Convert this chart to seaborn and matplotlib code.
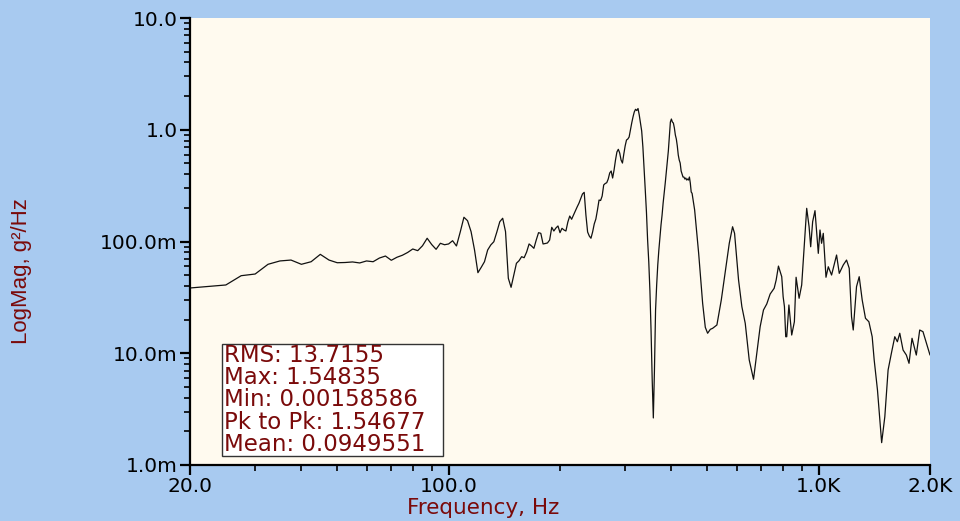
import numpy as np
import pandas as pd
import matplotlib
matplotlib.use("Agg")
import matplotlib.pyplot as plt
import matplotlib.ticker as mticker
from matplotlib.patches import Rectangle
import seaborn as sns

# Power spectral density, frequency in Hz and level in dB re 1 g^2/Hz
freq_hz = [
    20.0, 25.0, 27.5, 30.0, 32.5, 35.0, 37.5, 40.0, 42.5, 45.0, 47.5, 50.0,
    52.5, 55.0, 57.5, 60.0, 62.5, 65.0, 67.5, 70.0, 72.5, 75.0, 77.5, 80.0,
    82.5, 85.0, 87.5, 90.0, 92.5, 95.0, 97.5, 100.0, 102.5, 105.0, 107.5, 110.0,
    112.5, 115.0, 117.5, 120.0, 122.5, 125.0, 127.5, 130.0, 132.5, 135.0, 137.5, 140.0,
    142.5, 145.0, 147.5, 150.0, 152.5, 155.0, 157.5, 160.0, 162.5, 165.0, 167.5, 170.0,
    172.5, 175.0, 177.5, 180.0, 182.5, 185.0, 187.5, 190.0, 192.5, 195.0, 197.5, 200.0,
    202.5, 205.0, 207.5, 210.0, 212.5, 215.0, 217.5, 220.0, 222.5, 225.0, 227.5, 230.0,
    232.5, 235.0, 237.5, 240.0, 242.5, 245.0, 247.5, 250.0, 252.5, 255.0, 257.5, 260.0,
    262.5, 265.0, 267.5, 270.0, 272.5, 275.0, 277.5, 280.0, 282.5, 285.0, 287.5, 290.0,
    292.5, 295.0, 297.5, 300.0, 302.5, 305.0, 307.5, 310.0, 312.5, 315.0, 317.5, 320.0,
    322.5, 325.0, 327.5, 330.0, 332.5, 335.0, 337.5, 340.0, 342.5, 345.0, 347.5, 350.0,
    352.5, 355.0, 357.5, 360.0, 362.5, 365.0, 367.5, 370.0, 372.5, 375.0, 377.5, 380.0,
    382.5, 385.0, 387.5, 390.0, 392.5, 395.0, 397.5, 400.0, 402.5, 405.0, 407.5, 410.0,
    412.5, 415.0, 417.5, 420.0, 422.5, 425.0, 427.5, 430.0, 432.5, 435.0, 437.5, 440.0,
    442.5, 445.0, 447.5, 450.0, 452.5, 455.0,
    462.3, 474.0, 485.9, 494.0, 501.2, 509.7, 517.0, 531.0, 545.7, 559.5, 573.5, 585.4,
    592.7, 607.6, 620.2, 633.4, 649.3, 666.9, 680.7, 695.0, 709.5, 724.2, 739.6, 758.2,
    767.8, 778.8, 794.9, 801.9, 808.4, 814.9, 820.0, 831.2, 845.8, 860.0, 869.2, 885.6,
    900.0, 919.3, 928.5, 942.4, 951.8, 963.5, 977.7, 998.0, 1008.6, 1018.6, 1029.4, 1046.9,
    1062.0, 1084.0, 1118.2, 1137.1, 1165.7, 1189.8, 1209.9, 1227.3, 1240.4, 1266.0, 1287.3, 1311.5,
    1338.6, 1367.3, 1395.6, 1413.1, 1442.3, 1480.4, 1509.8, 1540.9, 1572.8, 1606.4, 1632.5, 1657.0,
    1691.3, 1726.3, 1755.2, 1788.3, 1836.7, 1876.0, 1914.5, 2000.0,
]

level_db = [
    -14.16, -13.89, -13.06, -12.91, -12.04, -11.74, -11.66, -12.04, -11.81, -11.15, -11.66, -11.90,
    -11.88, -11.83, -11.92, -11.74, -11.81, -11.48, -11.30, -11.68, -11.41, -11.23, -10.98, -10.67,
    -10.82, -10.38, -9.71, -10.27, -10.70, -10.16, -10.29, -10.22, -9.93, -10.40, -9.15, -7.83,
    -8.14, -9.12, -10.76, -12.79, -12.31, -11.81, -10.76, -10.31, -10.02, -9.15, -8.23, -7.92,
    -9.12, -13.29, -14.10, -13.00, -11.95, -11.72, -11.36, -11.45, -10.94, -10.22, -10.40, -10.61,
    -9.87, -9.21, -9.27, -10.22, -10.18, -10.13, -9.87, -8.73, -9.06, -8.79, -8.61, -9.21,
    -8.82, -8.97, -9.06, -8.26, -7.72, -8.01, -7.63, -7.27, -6.91, -6.58, -6.15, -5.75,
    -5.60, -7.63, -9.15, -9.51, -9.71, -9.15, -8.43, -7.99, -7.18, -6.29, -6.33, -5.93,
    -4.94, -4.81, -4.74, -4.41, -3.87, -3.69, -4.32, -3.60, -2.71, -1.99, -1.75, -2.08,
    -2.71, -2.98, -2.17, -1.45, -0.92, -0.83, -0.65, -0.02, 0.60, 1.14, 1.59, 1.83,
    1.72, 1.90, 1.32, 0.60, -0.11, -1.54, -3.42, -5.39, -7.36, -9.87, -11.83, -14.43,
    -18.01, -22.39, -25.79, -21.50, -16.13, -13.89, -12.10, -10.76, -9.60, -8.52, -7.63, -6.55,
    -5.66, -4.77, -3.78, -2.71, -1.90, -0.56, 0.69, 0.96, 0.69, 0.60, 0.16, -0.47,
    -0.83, -1.45, -2.26, -2.71, -2.98, -3.69, -3.96, -4.23, -4.23, -4.41, -4.32, -4.50,
    -4.41, -4.50, -4.23, -4.77, -5.57, -5.69,
    -7.18, -11.06, -15.53, -17.68, -18.21, -17.86, -17.77, -17.47, -15.23, -12.70, -10.16, -8.68,
    -9.27, -13.45, -15.83, -17.32, -20.60, -22.33, -20.00, -17.62, -16.13, -15.59, -14.70, -14.19,
    -13.45, -12.20, -13.15, -14.94, -15.83, -18.52, -18.52, -15.68, -18.37, -17.18, -13.20, -15.08,
    -13.89, -9.12, -7.03, -8.68, -10.47, -8.23, -7.24, -11.06, -8.97, -10.16, -9.27, -13.20,
    -12.26, -13.00, -11.21, -12.85, -12.10, -11.66, -12.40, -16.73, -17.92, -14.04, -13.15, -15.23,
    -16.87, -17.18, -18.52, -20.60, -23.29, -28.00, -25.68, -21.50, -20.00, -18.52, -18.97, -18.21,
    -19.71, -20.16, -20.90, -18.66, -20.16, -17.92, -18.07, -20.16,
]

stats_lines = [
    "RMS: 13.7155",
    "Max: 1.54835",
    "Min: 0.00158586",
    "Pk to Pk: 1.54677",
    "Mean: 0.0949551",
]

x_tick_values = [20, 100, 1000, 2000]
x_tick_labels = ["20.0", "100.0", "1.0K", "2.0K"]
y_tick_values = [0.001, 0.01, 0.1, 1.0, 10.0]
y_tick_labels = ["1.0m", "10.0m", "100.0m", "1.0", "10.0"]

df = pd.DataFrame({
    "Frequency": freq_hz,
    "PSD": 10.0 ** (np.array(level_db) / 10.0),
})

sns.set_style("white")
plt.rcParams["font.family"] = ["DejaVu Sans"]

fig_bg = "#a8caf0"
plot_bg = "#fffaef"
label_red = "#7a0a0a"

fig = plt.figure(figsize=(9.6, 5.21), dpi=100, facecolor=fig_bg)
ax = fig.add_axes([190 / 960, 1 - 465 / 521, 740 / 960, 447 / 521])
ax.set_facecolor(plot_bg)

sns.lineplot(data=df, x="Frequency", y="PSD", ax=ax, color="#111111",
             linewidth=0.9, estimator=None, sort=False)

ax.set_xscale("log")
ax.set_yscale("log")
ax.set_xlim(20, 2000)
ax.set_ylim(0.001, 10.0)

ax.xaxis.set_major_locator(mticker.FixedLocator(x_tick_values))
ax.xaxis.set_major_formatter(mticker.FixedFormatter(x_tick_labels))
ax.xaxis.set_minor_locator(mticker.LogLocator(base=10, subs=np.arange(2, 10)))
ax.xaxis.set_minor_formatter(mticker.NullFormatter())
ax.yaxis.set_major_locator(mticker.FixedLocator(y_tick_values))
ax.yaxis.set_major_formatter(mticker.FixedFormatter(y_tick_labels))
ax.yaxis.set_minor_locator(mticker.LogLocator(base=10, subs=np.arange(2, 10)))
ax.yaxis.set_minor_formatter(mticker.NullFormatter())

for side in ("top", "right"):
    ax.spines[side].set_visible(False)
for side in ("left", "bottom"):
    ax.spines[side].set_color("black")
    ax.spines[side].set_linewidth(1.6)

ax.tick_params(which="major", direction="out", length=7, width=1.6, color="black",
               labelsize=14.5, labelcolor="black", left=True, bottom=True, pad=2)
ax.tick_params(which="minor", direction="out", length=4, width=1.2, color="black",
               left=True, bottom=True)

ax.set_xlabel("Frequency, Hz", fontsize=15.5, color=label_red, va="top")
ax.xaxis.set_label_coords(0.396, -0.073)
ax.set_ylabel("LogMag, g²/Hz", fontsize=16, color=label_red,
              family="Liberation Sans")
ax.yaxis.set_label_coords(-0.213, 0.433)

# Statistics panel in the lower-left corner of the plot area
box_x0, box_y0, box_w, box_h = 0.0432, 0.020, 0.299, 0.251
ax.add_patch(Rectangle((box_x0, box_y0), box_w, box_h, transform=ax.transAxes,
                       facecolor="white", edgecolor="#333333", linewidth=1.0,
                       zorder=5))
line_step = box_h / len(stats_lines)
for i, line in enumerate(stats_lines):
    ax.text(box_x0 + 0.003, box_y0 + box_h - (i + 0.5) * line_step, line,
            transform=ax.transAxes, fontsize=16.5, color=label_red,
            ha="left", va="center", zorder=6)

fig.savefig("out.png", dpi=100, facecolor=fig_bg)
